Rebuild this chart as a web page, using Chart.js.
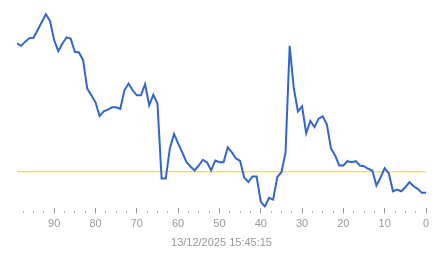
<!DOCTYPE html>
<html>
<head>
<meta charset="utf-8">
<script src="https://cdn.jsdelivr.net/npm/chart.js@4/dist/chart.umd.min.js"></script>
<style>
  body { margin: 0; background: #fff; }
</style>
</head>
<body>
<canvas id="myChart" width="443" height="258"></canvas>
<script>
// minutes ago (x) and reading (y), oldest first
const minutesAgo = [99, 98, 97, 96, 95, 94, 93, 92, 91, 90,
	89, 88, 87, 86, 85, 84, 83, 82, 81, 80,
	79, 78, 77, 76, 75, 74, 73, 72, 71, 70,
	69, 68, 67, 66, 65, 64, 63, 62, 61, 60,
	59, 58, 57, 56, 55, 54, 53, 52, 51, 50,
	49, 48, 47, 46, 45, 44, 43, 42, 41, 40,
	39, 38, 37, 36, 35, 34, 33, 32, 31, 30,
	29, 28, 27, 26, 25, 24, 23, 22, 21, 20,
	19, 18, 17, 16, 15, 14, 13, 12, 11, 10,
	9, 8, 7, 6, 5, 4, 3, 2, 1, 0]
const readings = [166.7, 164.3, 168.5, 172, 172.3, 180, 188, 195.7, 189, 170,
	159, 166.7, 172.7, 171.5, 158.3, 157.7, 150, 121.7, 115, 108,
	94.3, 99, 100.7, 103, 103, 101.5, 120, 126.7, 120, 115,
	115, 126, 105, 115.5, 106.7, 32, 32, 62, 76.5, 67,
	58, 48.5, 44, 40, 45, 50.7, 48, 40, 50, 48.3,
	48.3, 63, 58, 52, 49.5, 33, 28.5, 34, 34, 9,
	4, 12.7, 11, 33.3, 38.3, 58, 164.3, 122, 99, 104,
	77, 89.3, 83.3, 91.7, 94, 86, 62, 55, 45, 45,
	49.3, 48.3, 49.3, 45, 44.3, 41.7, 40, 25, 33, 42.3,
	37, 19.3, 21, 19.3, 23.3, 28.3, 24.3, 21.7, 17.7, 17.7]
const threshold = 38.7
const stampText = "13/12/2025 15:45:15"

let points = []
minutesAgo.map((m, i) => {
	points.push({x: m, y: readings[i]})
})

let myChart1 = document.getElementById("myChart").getContext('2d');

let chart1 = new Chart(myChart1, {
	type: "line",
	data: {
		datasets: [{
			data: points,
			borderColor: "#3366cc",
			borderWidth: 2,
			pointRadius: 0,
			tension: 0
		}, {
			data: [{x: minutesAgo[0], y: threshold}, {x: minutesAgo[minutesAgo.length - 1], y: threshold}],
			borderColor: "#e8cc55",
			borderWidth: 1,
			pointRadius: 0
		}]
	},
	options: {
		responsive: false,
		animation: false,
		events: [],
		layout: {
			padding: {left: 17, right: 17, top: 0, bottom: 8}
		},
		scales: {
			x: {
				type: "linear",
				reverse: true,
				min: 0,
				max: 99,
				border: {display: false},
				grid: {
					drawOnChartArea: false,
					tickLength: 6,
					tickColor: "#999",
					tickWidth: 1,
					tickBorderDash: (ctx) => (ctx.tick && ctx.tick.value % 10 === 0) ? [] : [0, 3, 1.5, 10]
				},
				ticks: {
					stepSize: 2.5,
					includeBounds: false,
					autoSkip: false,
					maxRotation: 0,
					padding: 4,
					color: "#999",
					font: {family: "Liberation Sans", size: 11},
					callback: (v) => v % 10 === 0 ? v : ""
				},
				title: {
					display: true,
					text: stampText,
					color: "#999",
					font: {family: "Liberation Sans", size: 11},
					padding: {top: 2, bottom: 0}
				}
			},
			y: {
				display: false,
				min: 3,
				max: 210
			}
		},
		plugins: {
			legend: {display: false},
			tooltip: {enabled: false}
		}
	}
})
</script>
</body>
</html>
